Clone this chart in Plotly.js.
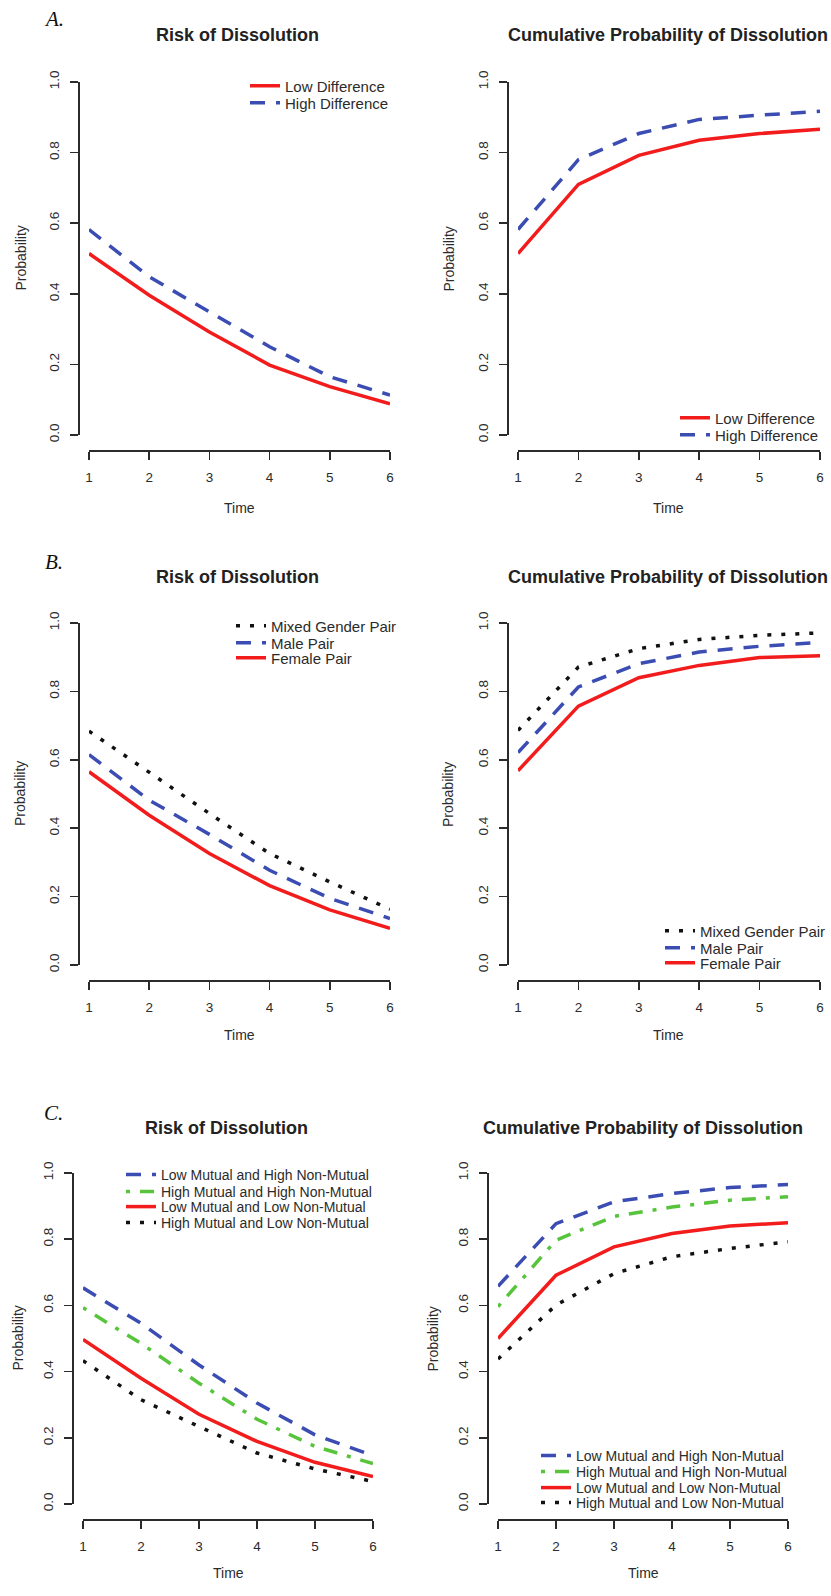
<!DOCTYPE html>
<html><head><meta charset="utf-8">
<script src="https://cdn.plot.ly/plotly-3.0.1.min.js"></script>
<style>html,body{margin:0;padding:0;background:#fff}#chart{width:831px;height:1596px}</style>
</head><body><div id="chart"></div>
<script>
// ---------------- data ----------------
const time = [1, 2, 3, 4, 5, 6];
const yTickVals = [0, 0.2, 0.4, 0.6, 0.8, 1.0];
const yTickText = ['0.0', '0.2', '0.4', '0.6', '0.8', '1.0'];

const panelLetters = ['A.', 'B.', 'C.'];
const panelTitles = ['Risk of Dissolution', 'Cumulative Probability of Dissolution'];
const xTitle = 'Time';
const yTitle = 'Probability';

// A. Difference
const labelsA = ['Low Difference', 'High Difference'];
const riskA_low  = [0.514, 0.396, 0.292, 0.198, 0.137, 0.088];
const riskA_high = [0.582, 0.448, 0.349, 0.250, 0.165, 0.113];
const cumA_low   = [0.514, 0.710, 0.792, 0.835, 0.854, 0.866];
const cumA_high  = [0.582, 0.780, 0.854, 0.894, 0.906, 0.917];

// B. Gender composition
const labelsB = ['Mixed Gender Pair', 'Male Pair', 'Female Pair'];
const riskB_mixed  = [0.684, 0.563, 0.443, 0.326, 0.243, 0.163];
const riskB_male   = [0.615, 0.482, 0.382, 0.277, 0.195, 0.136];
const riskB_female = [0.565, 0.438, 0.326, 0.232, 0.161, 0.107];
const cumB_mixed   = [0.686, 0.871, 0.925, 0.952, 0.964, 0.971];
const cumB_male    = [0.621, 0.813, 0.881, 0.915, 0.932, 0.943];
const cumB_female  = [0.568, 0.757, 0.840, 0.876, 0.899, 0.904];

// C. Mutual / non-mutual
const labelsC = ['Low Mutual and High Non-Mutual', 'High Mutual and High Non-Mutual',
                 'Low Mutual and Low Non-Mutual', 'High Mutual and Low Non-Mutual'];
const riskC_lowHigh  = [0.653, 0.546, 0.420, 0.305, 0.209, 0.146];
const riskC_highHigh = [0.593, 0.485, 0.365, 0.256, 0.174, 0.122];
const riskC_lowLow   = [0.497, 0.380, 0.271, 0.189, 0.126, 0.083];
const riskC_highLow  = [0.433, 0.315, 0.234, 0.154, 0.106, 0.068];
const cumC_lowHigh   = [0.658, 0.847, 0.913, 0.938, 0.956, 0.965];
const cumC_highHigh  = [0.596, 0.797, 0.869, 0.897, 0.918, 0.928];
const cumC_lowLow    = [0.500, 0.691, 0.777, 0.817, 0.840, 0.850];
const cumC_highLow   = [0.438, 0.601, 0.696, 0.747, 0.772, 0.792];

// ---------------- styles / geometry ----------------
const W = 831, H = 1596;
const px = v => v / W;
const py = v => 1 - v / H;
const SANS = 'Liberation Sans, Arial, sans-serif';
const AX = '#2b2b2b';

const RED   = {color: '#f21c1c', width: 3.5, dash: 'solid'};
const BLUE  = {color: '#3b4cb2', width: 3.5, dash: '15px,11px'};
const BLACK = {color: '#111111', width: 3.5, dash: '4px,10px'};
const GREEN = {color: '#58c43c', width: 3.5, dash: '4px,10px,14px,10px'};

const rows = [
  {top: 82,   bottom: 435,  axisY: 450,  titleY: 35,   timeY: 508,  letterY: 19},
  {top: 623,  bottom: 965,  axisY: 980,  titleY: 577,  timeY: 1035, letterY: 562},
  {top: 1173, bottom: 1504, axisY: 1519, titleY: 1128, timeY: 1573, letterY: 1113}
];
const colsAB = [{x1: 89, x6: 390, axisX: 78, probX: 20, titleX: 238, timeX: 239},
                {x1: 518, x6: 820, axisX: 507, probX: 448, titleX: 668, timeX: 668}];
const colsC  = [{x1: 83, x6: 373, axisX: 72, probX: 17, titleX: 227, timeX: 228},
                {x1: 498, x6: 788, axisX: 487, probX: 432, titleX: 643, timeX: 643}];
const letterX = [54, 54, 54];

// series per panel: [values, label, style, legendRowY]
const panels = [
  {row: 0, col: 0, size: 15, textX: 287, series: [
    [riskA_low, labelsA[0], RED, 86], [riskA_high, labelsA[1], BLUE, 103]]},
  {row: 0, col: 1, size: 15, textX: 717, series: [
    [cumA_low, labelsA[0], RED, 418], [cumA_high, labelsA[1], BLUE, 435]]},
  {row: 1, col: 0, size: 15, textX: 273, series: [
    [riskB_mixed, labelsB[0], BLACK, 626], [riskB_male, labelsB[1], BLUE, 643], [riskB_female, labelsB[2], RED, 658]]},
  {row: 1, col: 1, size: 15, textX: 702, series: [
    [cumB_mixed, labelsB[0], BLACK, 931], [cumB_male, labelsB[1], BLUE, 948], [cumB_female, labelsB[2], RED, 963]]},
  {row: 2, col: 0, size: 14, textX: 163, series: [
    [riskC_lowHigh, labelsC[0], BLUE, 1175], [riskC_highHigh, labelsC[1], GREEN, 1192],
    [riskC_lowLow, labelsC[2], RED, 1207], [riskC_highLow, labelsC[3], BLACK, 1223]]},
  {row: 2, col: 1, size: 14, textX: 578, series: [
    [cumC_lowHigh, labelsC[0], BLUE, 1456], [cumC_highHigh, labelsC[1], GREEN, 1472],
    [cumC_lowLow, labelsC[2], RED, 1488], [cumC_highLow, labelsC[3], BLACK, 1503]]}
];

const data = [];
const layout = {
  width: W, height: H,
  margin: {l: 0, r: 0, t: 0, b: 0},
  paper_bgcolor: '#ffffff', plot_bgcolor: '#ffffff',
  showlegend: true,
  font: {family: SANS, color: AX},
  annotations: []
};

let legendCount = 0;
panels.forEach((p, i) => {
  const k = i + 1;
  const sfx = k === 1 ? '' : String(k);
  const r = rows[p.row];
  const c = (p.row === 2 ? colsC : colsAB)[p.col];

  layout['xaxis' + sfx] = {
    domain: [px(c.x1), px(c.x6)], range: [1, 6], anchor: 'free', position: py(r.axisY),
    showline: true, linecolor: AX, linewidth: 1.6, mirror: false,
    ticks: 'outside', ticklen: 8, tickwidth: 1.6, tickcolor: AX, ticklabelstandoff: 6,
    tickmode: 'array', tickvals: time, ticktext: time.map(String),
    tickfont: {family: SANS, size: 13.5, color: AX},
    showgrid: false, zeroline: false, fixedrange: true
  };
  layout['yaxis' + sfx] = {
    domain: [py(r.bottom), py(r.top)], range: [0, 1], anchor: 'free', position: px(c.axisX),
    showline: true, linecolor: AX, linewidth: 1.6,
    ticks: 'outside', ticklen: 8, tickwidth: 1.6, tickcolor: AX, ticklabelstandoff: 6,
    tickmode: 'array', tickvals: yTickVals, ticktext: yTickText, tickangle: -90,
    tickfont: {family: SANS, size: 13.5, color: AX},
    showgrid: false, zeroline: false, fixedrange: true
  };

  p.series.forEach(s => {
    legendCount += 1;
    const lg = legendCount === 1 ? 'legend' : 'legend' + legendCount;
    data.push({
      type: 'scatter', mode: 'lines', x: time, y: s[0], name: s[1],
      xaxis: 'x' + sfx, yaxis: 'y' + sfx, legend: lg,
      line: {color: s[2].color, width: s[2].width, dash: s[2].dash},
      hoverinfo: 'skip'
    });
    layout[lg] = {
      x: px(p.textX - 42), y: py(s[3]), xanchor: 'left', yanchor: 'middle',
      bgcolor: 'rgba(0,0,0,0)', borderwidth: 0,
      font: {family: SANS, size: p.size, color: AX}
    };
  });

  layout.annotations.push({
    xref: 'paper', yref: 'paper', x: px(c.titleX), y: py(r.titleY), xanchor: 'center', yanchor: 'middle',
    text: '<b>' + panelTitles[p.col] + '</b>', showarrow: false,
    font: {family: SANS, size: 18, color: '#222222'}
  });
  layout.annotations.push({
    xref: 'paper', yref: 'paper', x: px(c.timeX), y: py(r.timeY), xanchor: 'center', yanchor: 'middle',
    text: xTitle, showarrow: false, font: {family: SANS, size: 14, color: AX}
  });
  layout.annotations.push({
    xref: 'paper', yref: 'paper', x: px(c.probX), y: py((r.top + r.bottom) / 2), xanchor: 'center', yanchor: 'middle',
    text: yTitle, textangle: -90, showarrow: false, font: {family: SANS, size: 14, color: AX}
  });
});

panelLetters.forEach((t, i) => {
  layout.annotations.push({
    xref: 'paper', yref: 'paper', x: px(letterX[i]), y: py(rows[i].letterY), xanchor: 'center', yanchor: 'middle',
    text: '<i>' + t + '</i>', showarrow: false,
    font: {family: 'Liberation Serif, Times New Roman, serif', size: 21, color: '#111111'}
  });
});

Plotly.newPlot('chart', data, layout, {staticPlot: true, displayModeBar: false});
</script>
</body></html>
